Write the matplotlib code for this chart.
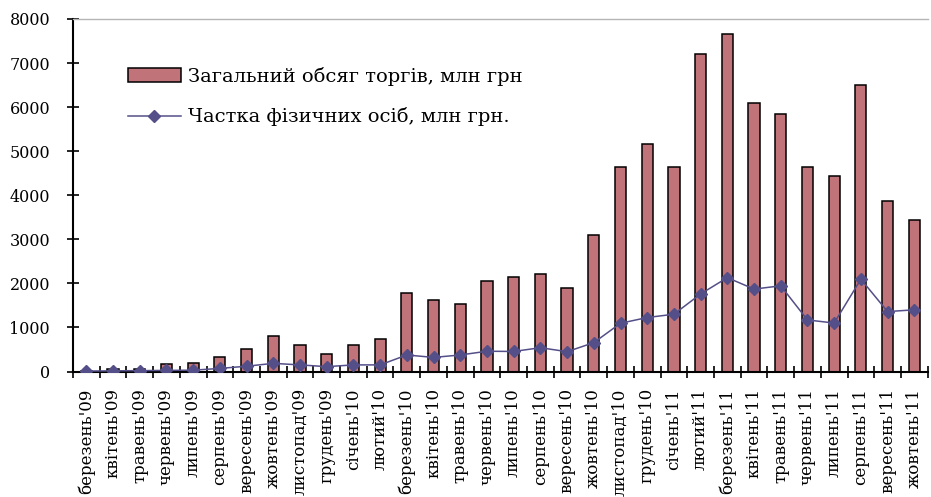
"""
Обсяг торгів по місяцях: загальний обсяг (стовпці) і частка фізичних осіб (лінія).
"""

import matplotlib
matplotlib.use("Agg")
import matplotlib.pyplot as plt
import numpy as np

months = [
    "березень'09", "квітень'09", "травень'09", "червень'09", "липень'09",
    "серпень'09", "вересень'09", "жовтень'09", "листопад'09", "грудень'09",
    "січень'10", "лютий'10", "березень'10", "квітень'10", "травень'10",
    "червень'10", "липень'10", "серпень'10", "вересень'10", "жовтень'10",
    "листопад'10", "грудень'10", "січень'11", "лютий'11", "березень'11",
    "квітень'11", "травень'11", "червень'11", "липень'11", "серпень'11",
    "вересень'11", "жовтень'11",
]

# загальний обсяг торгів, млн грн
total_volume = [
    20, 60, 50, 160, 200, 320, 520, 800, 600, 400,
    600, 730, 1780, 1620, 1540, 2060, 2140, 2210, 1890, 3100,
    4640, 5170, 4640, 7200, 7650, 6100, 5850, 4640, 4440, 6500,
    3870, 3430,
]

# частка фізичних осіб, млн грн
individuals = [
    10, 15, 20, 25, 30, 70, 120, 185, 150, 110,
    150, 150, 375, 320, 375, 460, 455, 540, 450, 655,
    1095, 1225, 1300, 1760, 2130, 1870, 1945, 1170, 1100, 2095,
    1360, 1400,
]

BAR_COLOR = "#C07379"
LINE_COLOR = "#544F88"
FONT = "DejaVu Serif"

fig = plt.figure(figsize=(9.31, 4.97), dpi=100)
ax = fig.add_axes([0.0784, 0.2525, 0.918, 0.7093])

x = np.arange(len(months))
bars = ax.bar(x, total_volume, width=0.42, color=BAR_COLOR, edgecolor="black",
              linewidth=1.1, zorder=2)
line, = ax.plot(x, individuals, color=LINE_COLOR, lw=1.1, marker="D", ms=6.5,
                zorder=3)

ax.set_xlim(-0.5, len(months) - 0.5)
ax.set_ylim(0, 8000)
ax.set_yticks(range(0, 8001, 1000))
ax.set_yticklabels([str(v) for v in range(0, 8001, 1000)], family=FONT, fontsize=11.5)

# tick marks between months, labels centred under bars
ax.set_xticks(np.arange(-0.5, len(months), 1.0))
ax.set_xticklabels([])
ax.set_xticks(x, minor=True)
ax.set_xticklabels(months, minor=True, rotation=90, family=FONT, fontsize=12,
                   va="top", ha="center")
ax.tick_params(axis="x", which="major", direction="inout", length=9, width=1.2)
ax.tick_params(axis="x", which="minor", length=0, pad=12)
ax.tick_params(axis="y", direction="inout", length=9, width=1.2, pad=12)

for side in ("left", "bottom"):
    ax.spines[side].set_linewidth(1.5)
ax.spines["top"].set_color("#b5b5b5")
ax.spines["top"].set_linewidth(1.0)
ax.spines["right"].set_visible(False)

ax.legend([bars, line],
          ["Загальний обсяг торгів, млн грн", "Частка фізичних осіб, млн грн."],
          loc="upper left", bbox_to_anchor=(128 / 931, 1 - 67 / 497),
          bbox_transform=fig.transFigure, frameon=False, borderpad=0,
          borderaxespad=0, prop={"family": FONT, "size": 14},
          handlelength=2.7, handletextpad=0.4, labelspacing=1.1)

fig.savefig("out.png", dpi=100)
